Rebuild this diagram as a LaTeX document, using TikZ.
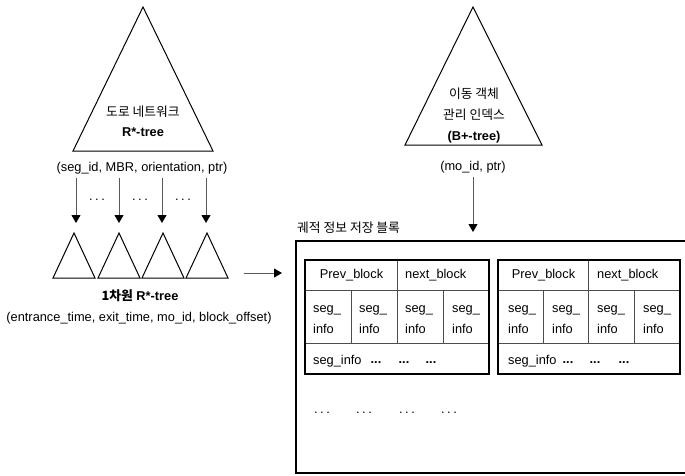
\documentclass[tikz,border=0pt]{standalone}
\usepackage{fontspec}
\setmainfont{Liberation Sans}
\newfontfamily\kr{Noto Sans CJK KR}
\usetikzlibrary{arrows.meta}
\newcommand{\spdots}{.\kern2.6pt.\kern2.6pt.}
\tikzset{
  txt/.style={inner sep=0pt, font=\fontsize{12.8}{15}\selectfont},
  tri/.style={draw=black, line width=1pt, line join=miter},
  ptr/.style={draw=black!65, line width=1pt,
    -{Triangle[length=8pt,width=9pt,color=black]}},
  blk/.style={draw=black, line width=2pt},
  cell/.style={draw=black!70, line width=1pt},
}
\begin{document}
\begin{tikzpicture}[x=1pt,y=-1pt]
\useasboundingbox (0,0) rectangle (685,476);

% road network R*-tree
\draw[tri] (143,7) -- (213,151) -- (73,151) -- cycle;
\node[txt] (rn1) at (143,112) {\kr 도로 네트워크};
\node[txt,font=\fontsize{12.8}{15}\selectfont\bfseries] (rn2) at (143,132) {R*-tree};
\node[txt] (segl) at (142,168) {(seg\_id, MBR, orientation, ptr)};

% pointers down to the 1-D trees
\foreach \i/\x in {1/76,2/119,3/162,4/206}{
  \coordinate (s\i) at (\x,178);
  \coordinate (e\i) at (\x,223);
  \draw[ptr] (s\i) -- (e\i);
}
\foreach \i/\x in {1/97,2/140,3/183}
  \node[txt] (d\i) at (\x,200) {\spdots};

% 1-D R*-trees
\foreach \i/\x in {1/74,2/119,3/163,4/207}
  \draw[tri] (\x,233) -- ++(21,45) -- ++(-42,0) -- cycle;
\node[txt,font=\fontsize{12.8}{15}\selectfont\bfseries] (od) at (140,296)
  {{\kr 1차원} R*-tree};
\node[txt] (odl) at (139,318) {(entrance\_time, exit\_time, mo\_id, block\_offset)};

\coordinate (ra) at (244,273);
\coordinate (rb) at (282,273);
\draw[ptr] (ra) -- (rb);

% moving object index
\draw[tri] (473,7) -- (542,145) -- (405,145) -- cycle;
\node[txt] (mo1) at (474,94) {\kr 이동 객체};
\node[txt] (mo2) at (474,115) {\kr 관리 인덱스};
\node[txt,font=\fontsize{12.8}{15}\selectfont\bfseries] (mo3) at (474,137) {(B+-tree)};
\node[txt] (mol) at (473,167) {(mo\_id, ptr)};
\coordinate (ms) at (473,177);
\coordinate (me) at (473,232);
\draw[ptr] (ms) -- (me);

% trajectory storage blocks
\node[txt,anchor=west] (tl) at (297,228) {\kr 궤적 정보 저장 블록};
\draw[blk] (296,241) rectangle (720,473);

\foreach \l/\m/\r/\pc/\nl/\ca/\cb/\cc/\cd/\da/\db/\dc in
  {305/397/489/351.5/405/313/359/405/452/376/404/431,
   498/588/680/543.5/597/508/552/597/643/568/595/624}{
  \draw[cell] (\l,290) -- (\r,290);
  \draw[cell] (\l,343) -- (\r,343);
  \draw[cell] (\m,260) -- (\m,343);
  \draw[cell] ({(\l+\m)/2},290) -- ({(\l+\m)/2},343);
  \draw[cell] ({(\m+\r)/2},290) -- ({(\m+\r)/2},343);
  \draw[blk] (\l,260) rectangle (\r,374);
  \node[txt] at (\pc,275) {Prev\_block};
  \node[txt,anchor=west] at (\nl,275) {next\_block};
  \foreach \c in {\ca,\cb,\cc,\cd}{
    \node[txt,anchor=west] at (\c,310) {seg\_};
    \node[txt,anchor=west] at (\c,329) {info};
  }
  \node[txt,anchor=west] at (\ca,361) {seg\_info};
  \foreach \d in {\da,\db,\dc}
    \node[txt,font=\fontsize{12.8}{15}\selectfont\bfseries] at (\d,363) {...};
}

\foreach \x in {322,364,407,449}
  \node[txt] at (\x,413) {\spdots};
\end{tikzpicture}
\end{document}
